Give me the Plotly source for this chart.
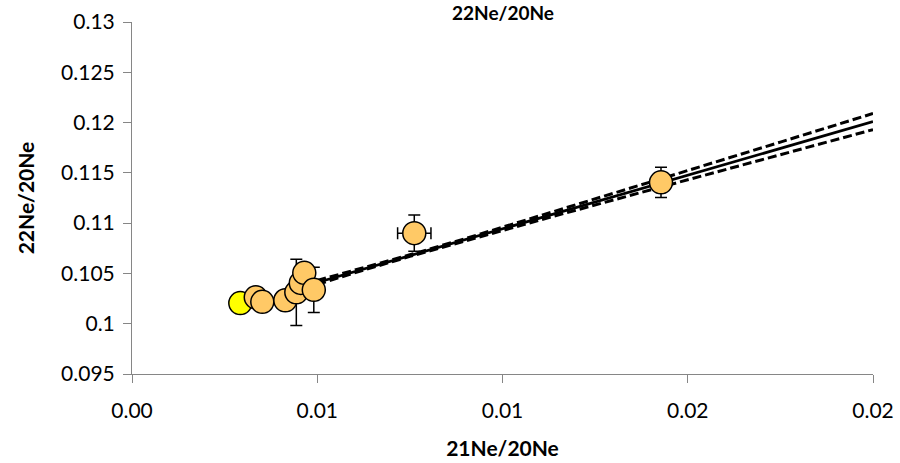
import plotly.graph_objects as go

# Ne isotope ratios of the samples
air_x = [0.002923]
air_y = [0.10205]

sample_x = [0.003341, 0.003517, 0.004138, 0.004435, 0.004556, 0.004650, 0.004907, 0.007619, 0.014278]
sample_y = [0.10262, 0.10218, 0.10233, 0.10312, 0.10406, 0.10506, 0.10337, 0.10900, 0.11406]
sample_yerr = [0.0, 0.0, 0.0, 0.0033, 0.0, 0.0, 0.00225, 0.0018, 0.0015]
sample_xerr = [0.0, 0.0, 0.0, 0.0, 0.0, 0.0, 0.0, 0.00045, 0.0]

# Regression line and its confidence envelope
fit_x = [0.005, 0.006, 0.0075, 0.009, 0.011, 0.013, 0.015, 0.0175, 0.02]
fit_y = [0.10410, 0.10517, 0.10677, 0.10837, 0.11050, 0.11263, 0.11477, 0.11743, 0.12010]
fit_upper = [0.10430, 0.10529, 0.10685, 0.10847, 0.11070, 0.11295, 0.11523, 0.11806, 0.12090]
fit_lower = [0.10390, 0.10505, 0.10669, 0.10827, 0.11030, 0.11231, 0.11431, 0.11680, 0.11930]

# Axis ticks
x_tickvals = [0.0, 0.005, 0.01, 0.015, 0.02]
x_ticktext = ["0.00", "0.01", "0.01", "0.02", "0.02"]
y_tickvals = [0.095, 0.1, 0.105, 0.11, 0.115, 0.12, 0.125, 0.13]
y_ticktext = ["0.095", "0.1", "0.105", "0.11", "0.115", "0.12", "0.125", "0.13"]

FONT = "Lato"
AXIS_GREY = "#868686"

fig = go.Figure()

for band in (fit_upper, fit_lower):
    fig.add_trace(go.Scatter(
        x=fit_x, y=band, mode="lines",
        line=dict(color="black", width=3, dash="9px,4px"),
        hoverinfo="skip", showlegend=False))

fig.add_trace(go.Scatter(
    x=fit_x, y=fit_y, mode="lines",
    line=dict(color="black", width=2.75),
    hoverinfo="skip", showlegend=False))

fig.add_trace(go.Scatter(
    x=air_x, y=air_y, mode="markers",
    marker=dict(size=23, color="#FFFF00", line=dict(color="black", width=1.5)),
    showlegend=False))

fig.add_trace(go.Scatter(
    x=sample_x, y=sample_y, mode="markers",
    marker=dict(size=23, color="#FFC966", line=dict(color="black", width=1.5)),
    error_y=dict(type="data", array=sample_yerr, visible=True,
                 color="black", thickness=1.5, width=6),
    error_x=dict(type="data", array=sample_xerr, visible=True,
                 color="black", thickness=1.5, width=6),
    showlegend=False))

fig.add_annotation(
    text="<b>22Ne/20Ne</b>", xref="paper", yref="paper",
    x=0.5, y=1.028, xanchor="center", yanchor="middle",
    showarrow=False, font=dict(family=FONT, size=19, color="black"))

fig.update_layout(
    width=900, height=463,
    margin=dict(l=131.7, r=27.3, t=21.7, b=88.7, autoexpand=False),
    paper_bgcolor="white", plot_bgcolor="white",
    font=dict(family=FONT, size=21, color="black"),
    xaxis=dict(
        range=[0, 0.02], tickvals=x_tickvals, ticktext=x_ticktext,
        automargin=False,
        showgrid=False, zeroline=False, showline=True,
        linecolor=AXIS_GREY, linewidth=1,
        ticks="outside", ticklen=8, tickcolor=AXIS_GREY,
        ticklabelstandoff=10,
        tickfont=dict(family=FONT, size=21, color="black"),
        title=dict(text="<b>21Ne/20Ne</b>", standoff=20,
                   font=dict(family=FONT, size=21, color="black")),
    ),
    yaxis=dict(
        range=[0.095, 0.13], tickvals=y_tickvals, ticktext=y_ticktext,
        automargin=False,
        showgrid=False, zeroline=False, showline=True,
        linecolor=AXIS_GREY, linewidth=1,
        ticks="outside", ticklen=8, tickcolor=AXIS_GREY,
        ticklabelstandoff=4,
        tickfont=dict(family=FONT, size=21, color="black"),
        title=dict(text="<b>22Ne/20Ne</b>", standoff=20,
                   font=dict(family=FONT, size=21, color="black")),
    ),
)

fig.write_html("out.html")
